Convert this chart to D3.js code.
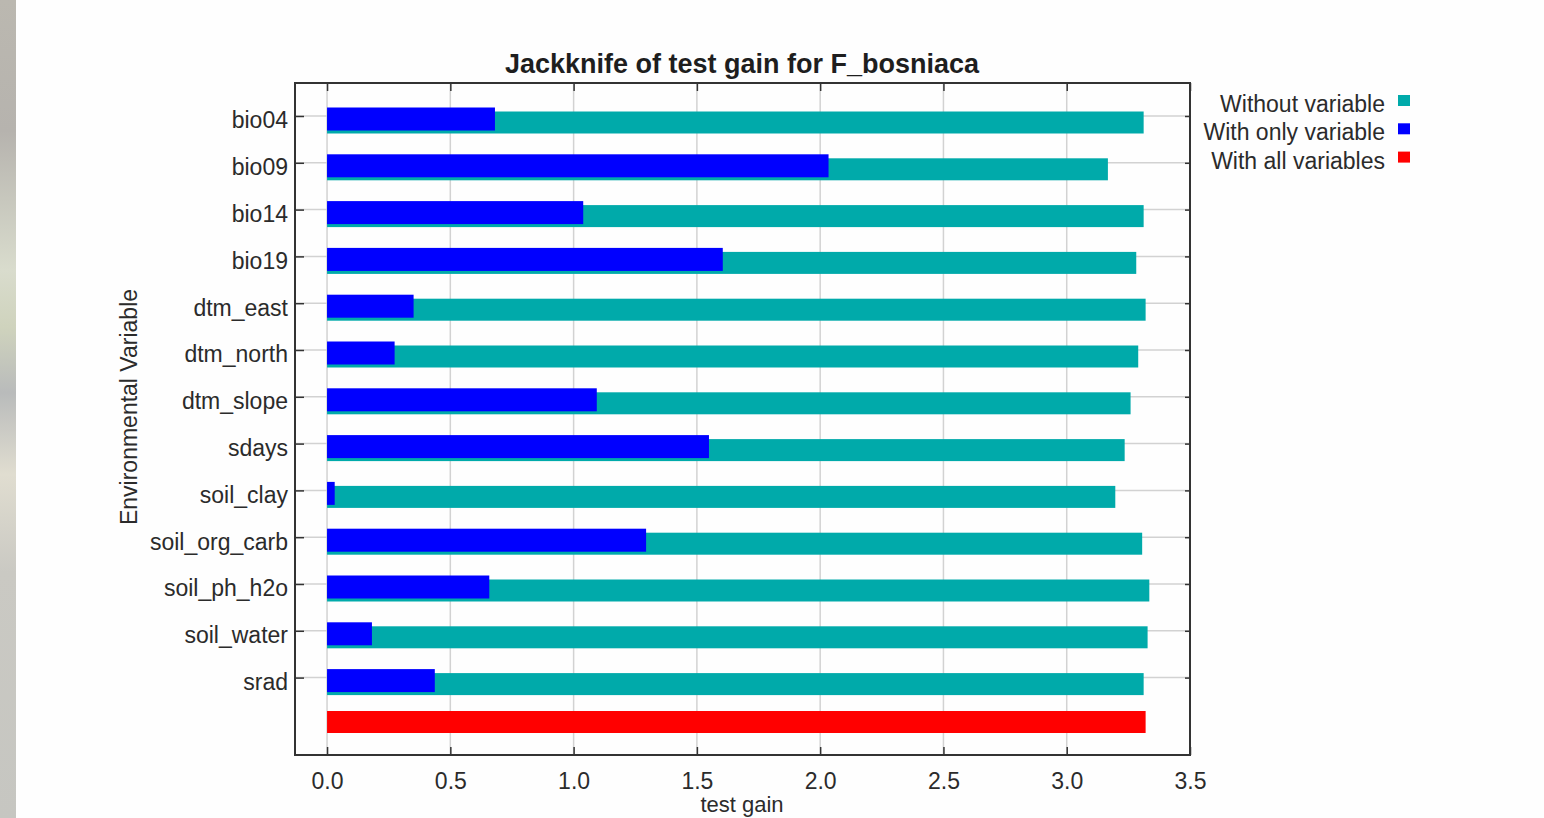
<!DOCTYPE html>
<html>
<head>
<meta charset="utf-8">
<script src="https://cdn.jsdelivr.net/npm/d3@7"></script>
<style>
  body { margin: 0; background: #fefefe; }
  svg text { font-family: "Liberation Sans", Arial, sans-serif; fill: #2b2b2b; }
</style>
</head>
<body>
<div id="chart"></div>
<script>
// jackknife results
var variables = ["bio04", "bio09", "bio14", "bio19", "dtm_east", "dtm_north", "dtm_slope",
                 "sdays", "soil_clay", "soil_org_carb", "soil_ph_h2o", "soil_water", "srad"];
var withoutVariable = [3.312, 3.167, 3.312, 3.282, 3.320, 3.290, 3.259,
                       3.235, 3.197, 3.306, 3.335, 3.328, 3.312];
var withOnlyVariable = [0.681, 2.034, 1.039, 1.605, 0.351, 0.274, 1.094,
                        1.549, 0.031, 1.294, 0.658, 0.182, 0.437];
var withAllVariables = 3.320;
var xTicks = [0, 0.5, 1, 1.5, 2, 2.5, 3, 3.5];
var legendLabels = ["Without variable", "With only variable", "With all variables"];
var legendColors = ["#00aaaa", "#0000ff", "#ff0000"];

var W = 1544, H = 818;
var frame = { left: 295, top: 83, right: 1190, bottom: 755 };

var svg = d3.select("#chart").append("svg")
    .attr("width", W)
    .attr("height", H);

// blurred strip of the page behind, at the far left
var grad = svg.append("defs").append("linearGradient")
    .attr("id", "strip").attr("x1", 0).attr("y1", 0).attr("x2", 0).attr("y2", 1);
[[0, "#bbb8b0"], [0.16, "#b6b3ae"], [0.33, "#d9dccd"], [0.4, "#cfd3bd"], [0.48, "#b9bbbb"],
 [0.58, "#e0ddd0"], [0.7, "#cac9c3"], [1, "#c6c6c1"]].forEach(function (s) {
    grad.append("stop").attr("offset", s[0]).attr("stop-color", s[1]);
});
svg.append("rect").attr("x", 0).attr("y", 0).attr("width", 16).attr("height", H)
    .attr("fill", "url(#strip)");

var x = d3.scaleLinear()
    .domain([-0.13, 3.5])
    .range([frame.left, frame.right]);

var rows = variables.concat(["all"]);
var y = d3.scalePoint()
    .domain(rows)
    .range([116, 724.4]);

// grid
svg.append("g").selectAll("line.v")
    .data(xTicks.slice(0, -1))
    .enter().append("line")
    .attr("x1", function (d) { return x(d); })
    .attr("x2", function (d) { return x(d); })
    .attr("y1", frame.top).attr("y2", frame.bottom)
    .attr("stroke", "#d2d2d2").attr("stroke-width", 1.5);

svg.append("g").selectAll("line.h")
    .data(variables)
    .enter().append("line")
    .attr("x1", frame.left).attr("x2", frame.right)
    .attr("y1", function (d) { return y(d); })
    .attr("y2", function (d) { return y(d); })
    .attr("stroke", "#d2d2d2").attr("stroke-width", 1.5);

// bars
svg.append("g").selectAll("rect")
    .data(variables)
    .enter().append("rect")
    .attr("x", x(0))
    .attr("y", function (d) { return y(d) - 4.5; })
    .attr("width", function (d, i) { return x(withoutVariable[i]) - x(0); })
    .attr("height", 22)
    .attr("fill", legendColors[0]);

svg.append("g").selectAll("rect")
    .data(variables)
    .enter().append("rect")
    .attr("x", x(0))
    .attr("y", function (d) { return y(d) - 8.5; })
    .attr("width", function (d, i) { return x(withOnlyVariable[i]) - x(0); })
    .attr("height", 23)
    .attr("fill", legendColors[1]);

svg.append("rect")
    .attr("x", x(0))
    .attr("y", y("all") - 13.4)
    .attr("width", x(withAllVariables) - x(0))
    .attr("height", 22)
    .attr("fill", legendColors[2]);

// axes, ticks pointing inward
var left = svg.append("g")
    .attr("transform", "translate(" + frame.left + ",0)")
    .call(d3.axisLeft(y).tickValues(variables).tickSize(-9).tickPadding(7));
left.selectAll("text").attr("dy", "0.52em").style("font-size", "23px");

var bottom = svg.append("g")
    .attr("transform", "translate(0," + frame.bottom + ")")
    .call(d3.axisBottom(x).tickValues(xTicks).tickFormat(d3.format(".1f"))
        .tickSize(-8).tickPadding(18));
bottom.selectAll("text").style("font-size", "23px");

svg.append("g")
    .attr("transform", "translate(0," + frame.top + ")")
    .call(d3.axisTop(x).tickValues(xTicks).tickSize(-8).tickFormat(""));

svg.append("g")
    .attr("transform", "translate(" + frame.right + ",0)")
    .call(d3.axisRight(y).tickValues(variables).tickSize(-5).tickFormat(""));

svg.selectAll(".domain").remove();
svg.selectAll(".tick line").attr("stroke", "#333").attr("stroke-width", 1.5);

svg.append("rect")
    .attr("x", frame.left).attr("y", frame.top)
    .attr("width", frame.right - frame.left)
    .attr("height", frame.bottom - frame.top)
    .attr("fill", "none")
    .attr("stroke", "#333")
    .attr("stroke-width", 2);

// titles
svg.append("text")
    .attr("x", 742).attr("y", 73)
    .attr("text-anchor", "middle")
    .style("font-size", "27px")
    .style("font-weight", "bold")
    .style("fill", "#1e1e1e")
    .text("Jackknife of test gain for F_bosniaca");

svg.append("text")
    .attr("transform", "translate(137,407) rotate(-90)")
    .attr("text-anchor", "middle")
    .style("font-size", "23px")
    .text("Environmental Variable");

svg.append("text")
    .attr("x", 742).attr("y", 812)
    .attr("text-anchor", "middle")
    .style("font-size", "22px")
    .text("test gain");

// legend
var legend = svg.append("g").selectAll("g")
    .data(legendLabels)
    .enter().append("g")
    .attr("transform", function (d, i) { return "translate(0," + (112 + i * 28.3) + ")"; });

legend.append("text")
    .attr("x", 1385)
    .attr("text-anchor", "end")
    .style("font-size", "23px")
    .text(function (d) { return d; });

legend.append("rect")
    .attr("x", 1398).attr("y", -17)
    .attr("width", 12).attr("height", 11)
    .attr("fill", function (d, i) { return legendColors[i]; });
</script>
</body>
</html>
